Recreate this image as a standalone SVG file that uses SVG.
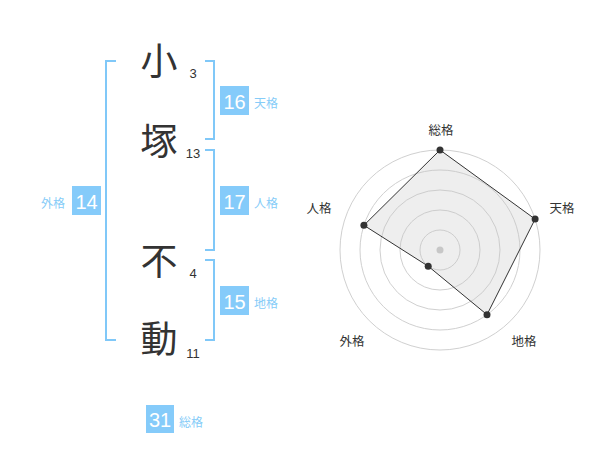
<svg xmlns="http://www.w3.org/2000/svg" width="600" height="470" viewBox="0 0 600 470">
<style>
.kanji{font-family:"Noto Sans CJK JP","Noto Sans CJK SC",sans-serif;font-size:37px;fill:#333;text-anchor:middle}
.num{font-family:"Liberation Sans",Arial,sans-serif;font-size:13px;fill:#333;text-anchor:middle}
.br{fill:none;stroke:#80c8f8;stroke-width:2}
.badge{fill:#85cbfa}
.bnum{font-family:"Liberation Sans",Arial,sans-serif;font-size:20px;fill:#fff;text-anchor:middle}
.lbl{font-family:"Noto Sans CJK JP","Noto Sans CJK SC",sans-serif;font-size:12px;fill:#86ccf8}
.ring{fill:none;stroke:#d0d0d0;stroke-width:1}
.rl{font-family:"Noto Sans CJK JP","Noto Sans CJK SC",sans-serif;font-size:12.5px;fill:#333;text-anchor:middle}
.dot{fill:#333}
</style>
<rect width="600" height="470" fill="#fff"/>
<g id="name">
<g id="c1"><text class="kanji" x="159" y="75">小</text><text class="num" x="193" y="77.5">3</text></g>
<g id="c2"><text class="kanji" x="159" y="155">塚</text><text class="num" x="193" y="157.5">13</text></g>
<g id="c3"><text class="kanji" x="159" y="275">不</text><text class="num" x="193" y="278">4</text></g>
<g id="c4"><text class="kanji" x="159" y="353">動</text><text class="num" x="193" y="357.5">11</text></g>
</g>
<g id="connectors">
<path class="br" d="M116,61 H106 V340 H116"/>
<path class="br" d="M205,61 H214 V139 H205"/>
<path class="br" d="M205,150 H214 V250 H205"/>
<path class="br" d="M205,260 H214 V340 H205"/>
</g>
<g id="tenkaku"><rect class="badge" x="220" y="86" width="29" height="29"/><text class="bnum" x="234.5" y="108.5">16</text><text class="lbl" x="254" y="108">天格</text></g>
<g id="jinkaku"><rect class="badge" x="220" y="186" width="29" height="29"/><text class="bnum" x="234.5" y="208.5">17</text><text class="lbl" x="254" y="208">人格</text></g>
<g id="chikaku"><rect class="badge" x="220" y="286" width="29" height="29"/><text class="bnum" x="234.5" y="308.5">15</text><text class="lbl" x="254" y="308">地格</text></g>
<g id="gaikaku"><rect class="badge" x="72" y="186" width="29" height="29"/><text class="bnum" x="86.5" y="208.5">14</text><text class="lbl" x="41" y="208">外格</text></g>
<g id="soukaku"><rect class="badge" x="146" y="405" width="28" height="28"/><text class="bnum" x="160" y="427">31</text><text class="lbl" x="179" y="427">総格</text></g>
<g id="radar">
<circle class="ring" cx="440" cy="250" r="20"/>
<circle class="ring" cx="440" cy="250" r="40"/>
<circle class="ring" cx="440" cy="250" r="60"/>
<circle class="ring" cx="440" cy="250" r="80"/>
<circle class="ring" cx="440" cy="250" r="100"/>
<circle cx="440" cy="250" r="3.5" fill="#c8c8c8"/>
<polygon points="440,150 535.1,219.1 487,314.7 428.2,266.2 363.9,225.3" fill="rgba(200,200,200,0.3)" stroke="#333" stroke-width="1"/>
<circle class="dot" cx="440" cy="150" r="3.5"/>
<circle class="dot" cx="535.1" cy="219.1" r="3.5"/>
<circle class="dot" cx="487" cy="314.7" r="3.5"/>
<circle class="dot" cx="428.2" cy="266.2" r="3.5"/>
<circle class="dot" cx="363.9" cy="225.3" r="3.5"/>
<text class="rl" x="441" y="135">総格</text>
<text class="rl" x="562" y="213">天格</text>
<text class="rl" x="524" y="346">地格</text>
<text class="rl" x="352" y="346">外格</text>
<text class="rl" x="319" y="213">人格</text>
</g>
</svg>
